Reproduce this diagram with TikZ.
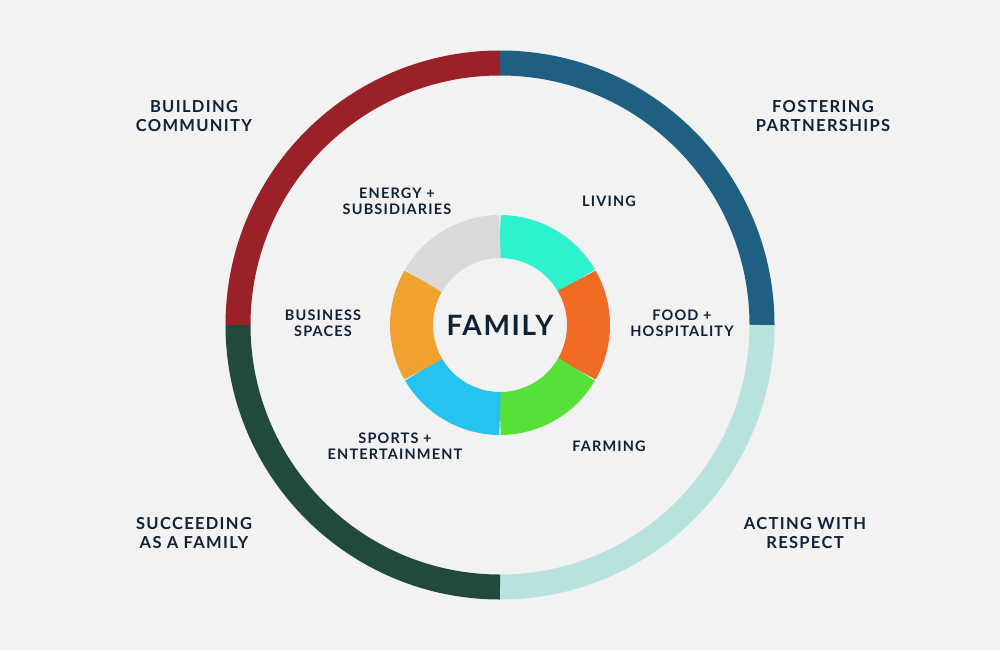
\documentclass[tikz,border=0pt]{standalone}
\usepackage{fontspec}
\setmainfont{Lato}
\definecolor{ink}{HTML}{0F2236}
\definecolor{bg}{HTML}{F2F2F2}
\definecolor{cLiving}{HTML}{2EF2CC}
\definecolor{cFood}{HTML}{F26B25}
\definecolor{cFarm}{HTML}{55E03A}
\definecolor{cSport}{HTML}{27C3F0}
\definecolor{cBiz}{HTML}{F0A22E}
\definecolor{cEnergy}{HTML}{D9D9D9}
\definecolor{cPartner}{HTML}{1E5F82}
\definecolor{cRespect}{HTML}{B8E2DE}
\definecolor{cSucceed}{HTML}{214A3C}
\definecolor{cCommunity}{HTML}{9A2128}
\tikzset{
	outerlbl/.style={text=ink, font=\fontsize{16.5}{19}\selectfont\bfseries\addfontfeature{LetterSpace=8}, align=center},
	innerlbl/.style={text=ink, font=\fontsize{14.5}{16}\selectfont\bfseries\addfontfeature{LetterSpace=8}, align=center}
}
\begin{document}
\begin{tikzpicture}[x=1pt,y=1pt,yscale=-1]
	\fill[bg] (0,0) rectangle (1000,650);
	\coordinate (c) at (500,325);
	% outer ring
	\foreach \s/\e/\col in {90/0/cPartner, 0/-90/cRespect, -90/-180/cSucceed, -180/-270/cCommunity}
		\draw[\col, line width=25] (c) ++(-\s:262) arc[start angle=-\s, end angle=-\e, radius=262];
	% inner ring
	\foreach \s/\e/\col in {90/30/cLiving, 30/-30/cFood, -30/-90/cFarm, -90/-150/cSport, -150/-210/cBiz, -210/-270/cEnergy}
		\draw[\col, line width=43] (c) ++(-\s:88.5) arc[start angle=-\s, end angle=-\e, radius=88.5];
	\node[text=ink, font=\fontsize{28}{30}\selectfont\bfseries\addfontfeature{LetterSpace=6}] (family) at (c) {FAMILY};
	\node[outerlbl] (community) at (194,116) {BUILDING\\COMMUNITY};
	\node[outerlbl] (partner) at (823,116) {FOSTERING\\PARTNERSHIPS};
	\node[outerlbl] (succeed) at (194,533) {SUCCEEDING\\AS A FAMILY};
	\node[outerlbl] (respect) at (805,533) {ACTING WITH\\RESPECT};
	\node[innerlbl] (energy) at (397,201) {ENERGY +\\SUBSIDIARIES};
	\node[innerlbl] (living) at (609,201) {LIVING};
	\node[innerlbl] (biz) at (323,323) {BUSINESS\\SPACES};
	\node[innerlbl] (food) at (682,323) {FOOD +\\HOSPITALITY};
	\node[innerlbl] (sport) at (395,446) {SPORTS +\\ENTERTAINMENT};
	\node[innerlbl] (farm) at (609,446) {FARMING};
\end{tikzpicture}
\end{document}
